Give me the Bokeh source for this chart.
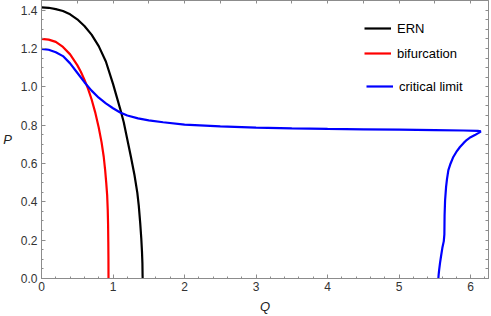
from bokeh.plotting import figure
from bokeh.models import (LinearAxis, SingleIntervalTicker, Range1d, Legend, LegendItem,
                          CustomJSTickFormatter)
from bokeh.embed import file_html
from bokeh.resources import INLINE

# ERN curve
ern_q = [0.0, 0.1, 0.2, 0.3, 0.4, 0.5, 0.6, 0.7, 0.8, 0.9, 1.0, 1.05, 1.1, 1.15, 1.2, 1.25, 1.3,
         1.34, 1.36, 1.38, 1.395, 1.405, 1.411, 1.414]
ern_p = [1.414, 1.412, 1.405, 1.395, 1.378, 1.352, 1.317, 1.272, 1.212, 1.132, 1.015, 0.950, 0.885,
         0.815, 0.725, 0.635, 0.540, 0.447, 0.38, 0.29, 0.21, 0.14, 0.08, 0.0]

# bifurcation curve
bif_q = [0.0, 0.1, 0.2, 0.3, 0.4, 0.5, 0.55, 0.6, 0.65, 0.7, 0.75, 0.8, 0.84, 0.87, 0.89, 0.905,
         0.918, 0.926, 0.931, 0.934, 0.936, 0.937]
bif_p = [1.25, 1.246, 1.234, 1.208, 1.169, 1.113, 1.078, 1.037, 0.990, 0.935, 0.868, 0.788, 0.71,
         0.635, 0.565, 0.50, 0.435, 0.36, 0.28, 0.19, 0.10, 0.0]

# critical limit curve
crit_q = [0.0, 0.1, 0.2, 0.3, 0.4, 0.5, 0.6, 0.7, 0.8, 0.9, 1.0, 1.1, 1.2, 1.35, 1.5, 1.7, 2.0, 2.5,
          3.0, 3.5, 4.0, 4.5, 5.0, 5.5, 5.9, 6.1, 6.143,
          6.10, 6.06, 6.0, 5.944, 5.9, 5.851, 5.80, 5.758, 5.72, 5.689, 5.67, 5.657, 5.643, 5.636,
          5.633, 5.625, 5.605, 5.588, 5.572, 5.56, 5.553, 5.549]
crit_p = [1.198, 1.193, 1.180, 1.160, 1.122, 1.073, 1.024, 0.98, 0.943, 0.913, 0.888, 0.866, 0.850,
          0.835, 0.825, 0.815, 0.803, 0.793, 0.787, 0.783, 0.780, 0.778, 0.776, 0.774, 0.772, 0.770,
          0.767,
          0.757, 0.748, 0.737, 0.722, 0.706, 0.686, 0.66, 0.634, 0.60, 0.565, 0.52, 0.478, 0.408,
          0.33, 0.23, 0.195, 0.16, 0.12, 0.08, 0.045, 0.02, 0.0]

X_MAX = 6.25
Y_MAX = 1.45

FONT = "Liberation Sans"
GRAY = "#8c8c8c"
LBL = "#333333"

p = figure(width=491, height=316, output_backend="svg", toolbar_location=None,
           x_range=Range1d(0, X_MAX), y_range=Range1d(0, Y_MAX),
           min_border_left=39, min_border_right=3, min_border_top=0, min_border_bottom=38,
           x_axis_label="Q", y_axis_label="P")
p.grid.visible = False
p.outline_line_color = GRAY
p.background_fill_color = "white"
p.border_fill_color = "white"

r_ern = p.line(ern_q, ern_p, line_color="black", line_width=2.2)
r_bif = p.line(bif_q, bif_p, line_color="#ff0000", line_width=2.2)
r_crit = p.line(crit_q, crit_p, line_color="#0000ff", line_width=2.2)

xa = p.xaxis[0]
xa.ticker = SingleIntervalTicker(interval=1, num_minor_ticks=5)
ya = p.yaxis[0]
ya.ticker = SingleIntervalTicker(interval=0.2, num_minor_ticks=4)
for ax in (xa, ya):
    ax.axis_line_color = GRAY
    ax.major_tick_line_color = GRAY
    ax.minor_tick_line_color = GRAY
    ax.major_tick_in = 4
    ax.major_tick_out = 0
    ax.minor_tick_in = 2
    ax.minor_tick_out = 0
    ax.major_label_text_font = FONT
    ax.major_label_text_font_size = "12px"
    ax.major_label_text_color = LBL
    ax.axis_label_text_font = FONT
    ax.axis_label_text_font_size = "13px"
    ax.axis_label_text_font_style = "italic"
    ax.axis_label_text_color = "#222222"
xa.major_label_standoff = 3
xa.axis_label_standoff = 5
ya.major_label_standoff = 4
ya.axis_label_standoff = 6
ya.axis_label_orientation = "horizontal"
ya.formatter = CustomJSTickFormatter(code="return tick.toFixed(1);")

top = LinearAxis(ticker=SingleIntervalTicker(interval=0.5, num_minor_ticks=0),
                 formatter=CustomJSTickFormatter(code="return '';"), major_label_standoff=0,
                 axis_line_color=GRAY, major_tick_line_color=GRAY, minor_tick_line_color=None,
                 major_tick_in=3, major_tick_out=0)
right = LinearAxis(ticker=SingleIntervalTicker(interval=0.05, num_minor_ticks=0),
                   formatter=CustomJSTickFormatter(code="return '';"), major_label_standoff=0,
                   axis_line_color=GRAY, major_tick_line_color=GRAY, minor_tick_line_color=None,
                   major_tick_in=3, major_tick_out=0)
p.add_layout(top, "above")
p.add_layout(right, "right")

def make_legend(label, renderer, loc):
    lg = Legend(items=[LegendItem(label=label, renderers=[renderer])], location=loc,
                border_line_color=None, background_fill_alpha=0, padding=0, margin=0,
                glyph_width=27, glyph_height=16, label_height=16, label_standoff=6,
                label_text_font=FONT, label_text_font_size="13px", label_text_color="black")
    p.add_layout(lg, "center")

make_legend("ERN", r_ern, (323, 242))
make_legend("bifurcation", r_bif, (323, 217))
make_legend("critical limit", r_crit, (325, 184))

open("out.html", "w").write(file_html(p, INLINE))
